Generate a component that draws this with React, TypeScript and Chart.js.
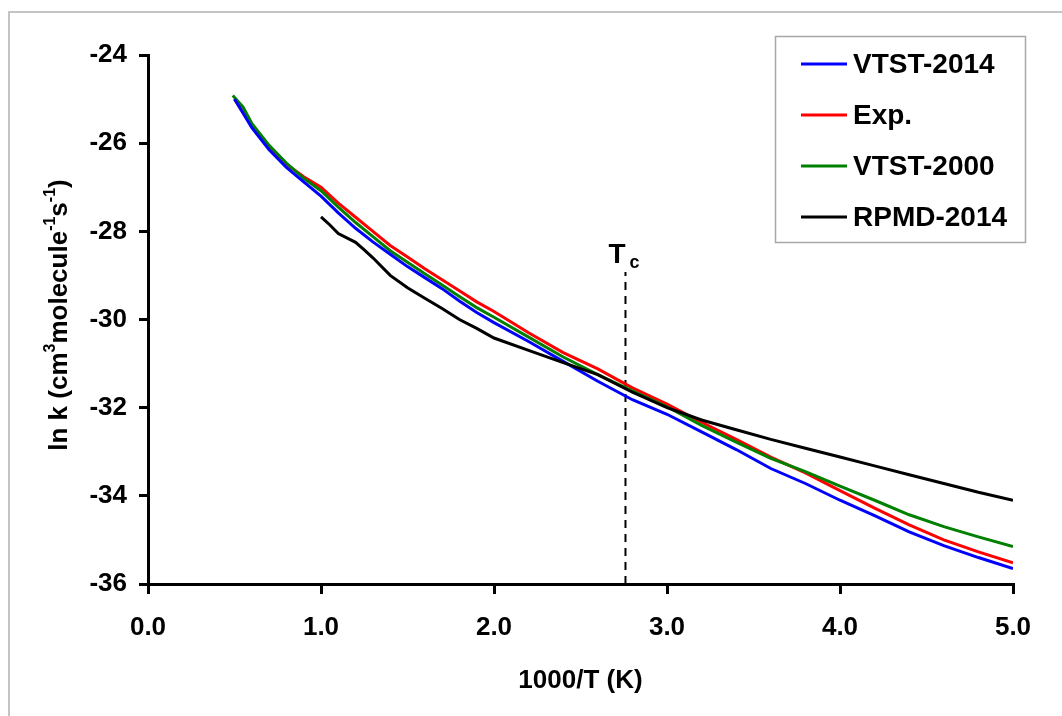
import { useEffect, useRef } from 'react';
import { Chart, registerables } from 'chart.js';

Chart.register(...registerables);

const FONT = '"Liberation Sans", Arial, Helvetica, sans-serif';

// ---- Data ----
const VTST2014_X = [0.5, 0.6, 0.7, 0.8, 0.9, 1.0, 1.1, 1.2, 1.3, 1.4, 1.5, 1.6, 1.7, 1.8, 1.9, 2.0, 2.2, 2.4, 2.6, 2.8, 3.0, 3.2, 3.4, 3.6, 3.8, 4.0, 4.2, 4.4, 4.6, 4.8, 5.0];
const VTST2014_Y = [-25.0, -25.65, -26.15, -26.55, -26.88, -27.2, -27.58, -27.93, -28.24, -28.52, -28.8, -29.05, -29.3, -29.58, -29.84, -30.07, -30.5, -30.95, -31.4, -31.82, -32.15, -32.55, -32.95, -33.38, -33.72, -34.1, -34.45, -34.82, -35.13, -35.4, -35.65];

const EXP_X = [0.5, 0.6, 0.7, 0.8, 0.9, 1.0, 1.1, 1.2, 1.3, 1.4, 1.5, 1.6, 1.7, 1.8, 1.9, 2.0, 2.2, 2.4, 2.6, 2.8, 3.0, 3.2, 3.4, 3.6, 3.8, 4.0, 4.2, 4.4, 4.6, 4.8, 5.0];
const EXP_Y = [-25.0, -25.6, -26.08, -26.48, -26.76, -27.0, -27.36, -27.68, -28.0, -28.32, -28.58, -28.85, -29.1, -29.35, -29.6, -29.82, -30.3, -30.75, -31.12, -31.55, -31.92, -32.33, -32.72, -33.12, -33.48, -33.88, -34.28, -34.66, -35.0, -35.27, -35.52];

const VTST2000_X = [0.49, 0.55, 0.6, 0.7, 0.8, 0.9, 1.0, 1.1, 1.2, 1.3, 1.4, 1.5, 1.6, 1.7, 1.8, 1.9, 2.0, 2.2, 2.4, 2.6, 2.8, 3.0, 3.2, 3.4, 3.6, 3.8, 4.0, 4.2, 4.4, 4.6, 4.8, 5.0];
const VTST2000_Y = [-24.92, -25.18, -25.55, -26.05, -26.45, -26.8, -27.08, -27.45, -27.8, -28.12, -28.44, -28.7, -28.96, -29.22, -29.48, -29.73, -29.95, -30.4, -30.85, -31.25, -31.62, -31.98, -32.4, -32.78, -33.15, -33.45, -33.78, -34.1, -34.43, -34.7, -34.93, -35.15];

const RPMD2014_X = [1.0, 1.05, 1.1, 1.2, 1.25, 1.3, 1.4, 1.5, 1.6, 1.7, 1.8, 1.9, 2.0, 2.2, 2.4, 2.6, 2.8, 3.0, 3.2, 3.4, 3.6, 3.8, 4.0, 4.2, 4.4, 4.6, 4.8, 5.0];
const RPMD2014_Y = [-27.67, -27.85, -28.05, -28.25, -28.42, -28.6, -29.0, -29.28, -29.52, -29.75, -30.0, -30.2, -30.42, -30.7, -30.98, -31.25, -31.65, -32.0, -32.28, -32.5, -32.72, -32.92, -33.12, -33.32, -33.52, -33.72, -33.92, -34.1];

const SERIES_LABELS = ['VTST-2014', 'Exp.', 'VTST-2000', 'RPMD-2014'];
const SERIES_COLORS = ['#0000ff', '#ff0000', '#008000', '#000000'];

const TC_X = 2.76;
const TC_TOP = -28.92;
const TC_BOTTOM = -36;

const X_MIN = 0, X_MAX = 5, X_STEP = 1;
const Y_MIN = -36, Y_MAX = -24, Y_STEP = 2;

const X_TITLE = '1000/T (K)';
const Y_TITLE_PARTS: { t: string; sup: boolean }[] = [
  { t: 'ln k (cm', sup: false },
  { t: '3', sup: true },
  { t: 'molecule', sup: false },
  { t: '-1', sup: true },
  { t: 's', sup: false },
  { t: '-1', sup: true },
  { t: ')', sup: false },
];

const pts = (xs: number[], ys: number[]) => xs.map((x, i) => ({ x, y: ys[i] }));

export default function App() {
  const ref = useRef<HTMLCanvasElement>(null);

  useEffect(() => {
    document.body.style.margin = '0';
    document.body.style.overflow = 'hidden';
    const canvas = ref.current;
    if (!canvas) return;

    const framePlugin = {
      id: 'frame',
      beforeDraw(chart: any) {
        const c = chart.ctx;
        c.save();
        c.fillStyle = '#ffffff';
        c.fillRect(0, 0, chart.width, chart.height);
        c.strokeStyle = '#c4c4c4';
        c.lineWidth = 2;
        c.beginPath();
        c.moveTo(9, chart.height);
        c.lineTo(9, 12);
        c.lineTo(chart.width, 12);
        c.stroke();
        c.restore();
      },
    };

    const yTitlePlugin = {
      id: 'ytitle',
      afterDraw(chart: any) {
        const c = chart.ctx;
        c.save();
        const mainFont = `bold 26px ${FONT}`;
        const supFont = `bold 16px ${FONT}`;
        let total = 0;
        const widths = Y_TITLE_PARTS.map((p) => {
          c.font = p.sup ? supFont : mainFont;
          const w = c.measureText(p.t).width;
          total += w;
          return w;
        });
        c.translate(67, 315);
        c.rotate(-Math.PI / 2);
        c.fillStyle = '#000';
        c.textBaseline = 'alphabetic';
        c.textAlign = 'left';
        let x = -total / 2;
        Y_TITLE_PARTS.forEach((p, i) => {
          c.font = p.sup ? supFont : mainFont;
          c.fillText(p.t, x, p.sup ? -12 : 0);
          x += widths[i];
        });
        c.restore();
      },
    };

    const tcPlugin = {
      id: 'tclabel',
      afterDatasetsDraw(chart: any) {
        const c = chart.ctx;
        const px = chart.scales.x.getPixelForValue(TC_X);
        const py = chart.scales.y.getPixelForValue(TC_TOP);
        c.save();
        c.fillStyle = '#000';
        c.textAlign = 'left';
        c.textBaseline = 'alphabetic';
        c.font = `bold 28px ${FONT}`;
        c.fillText('T', px - 17, py - 9);
        c.font = `bold 18px ${FONT}`;
        c.fillText('c', px + 4, py - 4);
        c.restore();
      },
    };

    const legendPlugin = {
      id: 'customLegend',
      afterDraw(chart: any) {
        const c = chart.ctx;
        c.save();
        c.fillStyle = '#ffffff';
        c.fillRect(775, 36, 250, 206);
        c.strokeStyle = '#a8a8a8';
        c.lineWidth = 1.5;
        c.strokeRect(775.5, 36.5, 250, 206);
        const items = chart.data.datasets.filter((d: any) => d.inLegend);
        items.forEach((d: any, i: number) => {
          const y = 64 + i * 51;
          c.strokeStyle = d.borderColor;
          c.lineWidth = 3;
          c.beginPath();
          c.moveTo(801, y);
          c.lineTo(847, y);
          c.stroke();
          c.fillStyle = '#000';
          c.font = `bold 28px ${FONT}`;
          c.textAlign = 'left';
          c.textBaseline = 'middle';
          c.fillText(d.label, 853, y + 1);
        });
        c.restore();
      },
    };

    const seriesData = [
      pts(VTST2014_X, VTST2014_Y),
      pts(EXP_X, EXP_Y),
      pts(VTST2000_X, VTST2000_Y),
      pts(RPMD2014_X, RPMD2014_Y),
    ];
    const orders = [1, 3, 2, 0];

    const datasets: any[] = seriesData.map((data, i) => ({
      label: SERIES_LABELS[i],
      data,
      inLegend: true,
      showLine: true,
      borderColor: SERIES_COLORS[i],
      backgroundColor: SERIES_COLORS[i],
      borderWidth: 3,
      pointRadius: 0,
      tension: 0,
      fill: false,
      order: orders[i],
    }));
    datasets.push({
      label: 'Tc',
      data: [
        { x: TC_X, y: TC_BOTTOM },
        { x: TC_X, y: TC_TOP },
      ],
      inLegend: false,
      showLine: true,
      borderColor: '#000',
      borderWidth: 2,
      borderDash: [8, 6],
      pointRadius: 0,
      fill: false,
      order: 5,
    });

    const tickFont = { family: FONT, size: 26, weight: 'bold' as const };

    const chart = new Chart(canvas, {
      type: 'scatter',
      data: { datasets },
      options: {
        animation: false,
        responsive: false,
        maintainAspectRatio: false,
        layout: { padding: { top: 55, right: 49, left: 0, bottom: 0 } },
        plugins: { legend: { display: false }, tooltip: { enabled: false } },
        scales: {
          x: {
            type: 'linear',
            min: X_MIN,
            max: X_MAX,
            ticks: {
              stepSize: X_STEP,
              callback: (v: any) => Number(v).toFixed(1),
              font: tickFont,
              color: '#000',
              padding: 18,
              maxRotation: 0,
              autoSkip: false,
            },
            grid: {
              display: true,
              drawOnChartArea: false,
              drawTicks: true,
              tickLength: 10,
              color: '#000',
              lineWidth: 3,
            },
            border: { display: true, color: '#000', width: 3 },
            title: {
              display: true,
              text: X_TITLE,
              font: { family: FONT, size: 26, weight: 'bold' },
              color: '#000',
              padding: { top: 0, bottom: 20 },
            },
            afterFit: (s: any) => {
              s.height = 132;
            },
          },
          y: {
            type: 'linear',
            min: Y_MIN,
            max: Y_MAX,
            ticks: {
              stepSize: Y_STEP,
              font: tickFont,
              color: '#000',
              padding: 12,
            },
            grid: {
              display: true,
              drawOnChartArea: false,
              drawTicks: true,
              tickLength: 9,
              color: '#000',
              lineWidth: 3,
            },
            border: { display: true, color: '#000', width: 3 },
            afterFit: (s: any) => {
              s.width = 148;
            },
          },
        },
      } as any,
      plugins: [framePlugin, yTitlePlugin, tcPlugin, legendPlugin],
    });

    return () => chart.destroy();
  }, []);

  return (
    <canvas
      ref={ref}
      width={1062}
      height={716}
      style={{ display: 'block', width: '1062px', height: '716px' }}
    />
  );
}
